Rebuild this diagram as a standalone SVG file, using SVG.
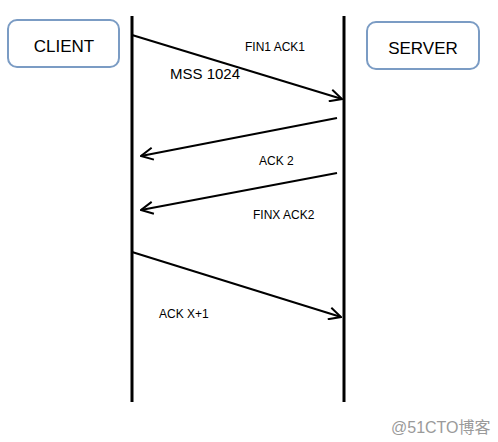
<svg xmlns="http://www.w3.org/2000/svg" width="498" height="442" viewBox="0 0 498 442">
<style>
.box{fill:#fff;stroke:#7b9cc4;stroke-width:2}
.lbl{font-family:"Liberation Sans",Arial,sans-serif;fill:#000}
.life{stroke:#000;stroke-width:3}
.msg{stroke:#000;stroke-width:2;fill:none;marker-end:url(#ah)}
</style>
<defs>
<marker id="ah" viewBox="0 0 14 14" refX="13" refY="7" markerWidth="14" markerHeight="14" markerUnits="userSpaceOnUse" orient="auto">
<path d="M1,1 L13,7 L1,13" fill="none" stroke="#000" stroke-width="2"/>
</marker>
</defs>
<rect width="498" height="442" fill="#fff"/>
<g id="client">
<rect class="box" x="8" y="20" width="111" height="47" rx="9"/>
<text class="lbl" x="64" y="52" font-size="17" text-anchor="middle">CLIENT</text>
<line class="life" x1="132" y1="16" x2="132" y2="402"/>
</g>
<g id="server">
<rect class="box" x="367" y="22" width="112" height="47" rx="9"/>
<text class="lbl" x="423" y="54" font-size="17" text-anchor="middle">SERVER</text>
<line class="life" x1="344" y1="16" x2="344" y2="402"/>
</g>
<g id="connectors">
<line class="msg" x1="132" y1="35" x2="342" y2="99"/>
<line class="msg" x1="337" y1="118" x2="141" y2="156"/>
<line class="msg" x1="337" y1="173" x2="141" y2="210"/>
<line class="msg" x1="132" y1="252" x2="341" y2="317"/>
</g>
<g id="labels">
<text class="lbl" x="245" y="51" font-size="12">FIN1 ACK1</text>
<text class="lbl" x="170" y="79" font-size="15">MSS 1024</text>
<text class="lbl" x="259" y="165" font-size="12">ACK 2</text>
<text class="lbl" x="253" y="219" font-size="12">FINX ACK2</text>
<text class="lbl" x="159" y="318" font-size="12">ACK X+1</text>
</g>
<text x="391" y="433" font-size="16" fill="#9a9a9a" font-family="'Liberation Sans','Noto Sans CJK SC',sans-serif">@51CTO博客</text>
</svg>
